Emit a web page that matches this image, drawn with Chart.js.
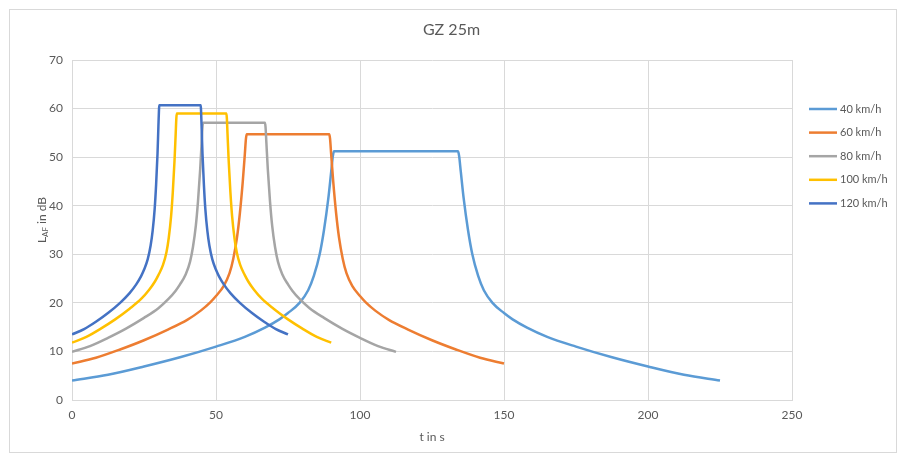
<!DOCTYPE html>
<html>
<head>
<meta charset="utf-8">
<script src="https://cdn.jsdelivr.net/npm/chart.js@4.4.1/dist/chart.umd.min.js"></script>
<style>
  html, body { margin: 0; padding: 0; background: #fff; }
  #wrap { width: 903px; height: 457px; }
</style>
</head>
<body>
<div id="wrap"><canvas id="chart" width="903" height="457"></canvas></div>
<script>
// Series names (legend)
const speeds = ['40 km/h', '60 km/h', '80 km/h', '100 km/h', '120 km/h'];

// Pass-by curves: t in s / L_AF in dB
const t40 = [0, 12.5, 25, 37.5, 50, 60, 67, 72, 75, 79, 82, 84, 86, 87.5, 89, 90, 90.6, 91,
             134, 134.4, 135, 136, 137.5, 139, 141, 143, 146, 150, 153, 158, 165, 175, 187.5, 200, 212.5, 225];
const l40 = [4.0, 5.2, 6.9, 8.8, 11.0, 13.0, 14.9, 16.6, 17.9, 20.0, 22.6, 25.6, 30.0, 35.0, 41.5, 47.0, 50.3, 51.2,
             51.2, 50.3, 47.0, 41.5, 35.0, 30.0, 25.6, 22.6, 20.0, 17.9, 16.6, 14.9, 13.0, 11.0, 8.8, 6.9, 5.2, 4.0];

const t60 = [0, 8.3, 16.7, 25.0, 33.3, 40.0, 44.7, 48.0, 50.0, 52.7, 54.7, 56.0, 57.3, 58.3, 59.3, 60.0, 60.4, 60.7,
             89.3, 89.6, 90.0, 90.7, 91.7, 92.7, 94.0, 95.3, 97.3, 100.0, 102.0, 105.3, 110.0, 116.7, 125.0, 133.3, 141.7, 150];
const l60 = [7.5, 8.7, 10.4, 12.3, 14.5, 16.5, 18.4, 20.1, 21.4, 23.5, 26.1, 29.1, 33.5, 38.5, 45.0, 50.5, 53.8, 54.7,
             54.7, 53.8, 50.5, 45.0, 38.5, 33.5, 29.1, 26.1, 23.5, 21.4, 20.1, 18.4, 16.5, 14.5, 12.3, 10.4, 8.7, 7.5];

const t80 = [0, 6.25, 12.5, 18.75, 25, 30, 33.5, 36, 37.5, 39.5, 41, 42, 43, 43.75, 44.5, 45, 45.3, 45.5,
             67, 67.2, 67.5, 68, 68.75, 69.5, 70.5, 71.5, 73, 75, 76.5, 79, 82.5, 87.5, 93.75, 100, 106.25, 112.5];
const l80 = [9.9, 11.1, 12.8, 14.7, 16.9, 18.9, 20.8, 22.5, 23.8, 25.9, 28.5, 31.5, 35.9, 40.9, 47.4, 52.9, 56.2, 57.1,
             57.1, 56.2, 52.9, 47.4, 40.9, 35.9, 31.5, 28.5, 25.9, 23.8, 22.5, 20.8, 18.9, 16.9, 14.7, 12.8, 11.1, 9.9];

const t100 = [0, 5, 10, 15, 20, 24, 26.8, 28.8, 30, 31.6, 32.8, 33.6, 34.4, 35, 35.6, 36, 36.24, 36.4,
              53.6, 53.76, 54, 54.4, 55, 55.6, 56.4, 57.2, 58.4, 60, 61.2, 63.2, 66, 70, 75, 80, 85, 90];
const l100 = [11.8, 13.0, 14.7, 16.6, 18.8, 20.8, 22.7, 24.4, 25.7, 27.8, 30.4, 33.4, 37.8, 42.8, 49.3, 54.8, 58.1, 59.0,
              59.0, 58.1, 54.8, 49.3, 42.8, 37.8, 33.4, 30.4, 27.8, 25.7, 24.4, 22.7, 20.8, 18.8, 16.6, 14.7, 13.0, 11.8];

const t120 = [0, 4.2, 8.3, 12.5, 16.7, 20.0, 22.3, 24.0, 25.0, 26.3, 27.3, 28.0, 28.7, 29.2, 29.7, 30.0, 30.2, 30.3,
              44.7, 44.8, 45.0, 45.3, 45.8, 46.3, 47.0, 47.7, 48.7, 50.0, 51.0, 52.7, 55.0, 58.3, 62.5, 66.7, 70.8, 75];
const l120 = [13.5, 14.6, 16.1, 17.9, 20.0, 22.0, 23.8, 25.5, 26.8, 29.0, 31.8, 34.8, 39.3, 44.3, 50.8, 56.3, 59.7, 60.7,
              60.7, 59.7, 56.3, 50.8, 44.3, 39.3, 34.8, 31.8, 29.0, 26.8, 25.5, 23.8, 22.0, 20.0, 17.9, 16.1, 14.6, 13.5];

const times = [t40, t60, t80, t100, t120];
const levels = [l40, l60, l80, l100, l120];
const colors = ['#5B9BD5', '#ED7D31', '#A5A5A5', '#FFC000', '#4472C4'];

const TEXT = '#595959';
const GRID = '#d9d9d9';
const FONT = 'Lato, "Open Sans", sans-serif';

Chart.defaults.font.family = FONT;
Chart.defaults.color = TEXT;

const datasets = speeds.map((name, i) => ({
    label: name,
    data: times[i].map((t, j) => ({ x: t, y: levels[i][j] })),
    borderColor: colors[i],
    backgroundColor: colors[i],
    borderWidth: 2.5,
    pointRadius: 0,
    cubicInterpolationMode: 'monotone',
    fill: false,
    order: speeds.length - i   // later series on top, like the original
}));

// frame, y title with subscript, legend on the right
const decor = {
    id: 'decor',
    beforeDraw(chart) {
        const ctx = chart.ctx;
        ctx.save();
        ctx.strokeStyle = GRID;
        ctx.lineWidth = 1;
        ctx.strokeRect(9.5, 9.5, 887, 443);
        ctx.restore();
    },
    afterDraw(chart) {
        const ctx = chart.ctx;
        ctx.save();
        ctx.fillStyle = TEXT;

        // y axis title: L_AF in dB
        ctx.translate(42, 220);
        ctx.rotate(-Math.PI / 2);
        const big = '12px ' + FONT, small = '8px ' + FONT;
        ctx.font = big;
        const wL = ctx.measureText('L').width;
        const wRest = ctx.measureText(' in dB').width;
        ctx.font = small;
        const wSub = ctx.measureText('AF').width;
        let x = -(wL + wSub + wRest) / 2;
        ctx.textBaseline = 'middle';
        ctx.textAlign = 'left';
        ctx.font = big;
        ctx.fillText('L', x, 0);
        x += wL;
        ctx.font = small;
        ctx.fillText('AF', x, 3);
        x += wSub;
        ctx.font = big;
        ctx.fillText(' in dB', x, 0);
        ctx.restore();

        // legend
        ctx.save();
        ctx.font = '11px ' + FONT;
        ctx.textBaseline = 'middle';
        ctx.textAlign = 'left';
        chart.data.datasets.forEach((ds, i) => {
            const y = 109 + i * 23.6;
            ctx.strokeStyle = ds.borderColor;
            ctx.lineWidth = 2.5;
            ctx.beginPath();
            ctx.moveTo(809, y);
            ctx.lineTo(837, y);
            ctx.stroke();
            ctx.fillStyle = TEXT;
            ctx.fillText(ds.label, 840, y);
        });
        ctx.restore();
    }
};

new Chart(document.getElementById('chart'), {
    type: 'line',
    data: { datasets: datasets },
    options: {
        responsive: false,
        animation: false,
        layout: { padding: 0 },
        plugins: {
            legend: { display: false },
            tooltip: { enabled: false },
            title: {
                display: true,
                text: 'GZ 25m',
                color: TEXT,
                font: { size: 16, weight: 'normal' },
                padding: { top: 20, bottom: 20.8 }
            }
        },
        scales: {
            x: {
                type: 'linear',
                min: 0,
                max: 250,
                ticks: { stepSize: 50, padding: 8, color: TEXT, font: { size: 12 } },
                grid: { color: GRID, drawTicks: false },
                border: { color: GRID },
                title: { display: true, text: 't in s', color: TEXT, font: { size: 12 }, padding: { top: 4, bottom: 13 } },
                afterFit: s => { s.height = 57; }
            },
            y: {
                min: 0,
                max: 70,
                ticks: { stepSize: 10, padding: 9, color: TEXT, font: { size: 12 } },
                grid: { color: GRID, drawTicks: false },
                border: { color: GRID },
                afterFit: s => { s.width = 72; }
            },
            // empty right-hand band that holds the legend
            side: {
                position: 'right',
                min: 0,
                max: 70,
                ticks: { display: false },
                grid: { display: false, drawTicks: false },
                border: { display: false },
                afterFit: s => { s.width = 111; }
            }
        }
    },
    plugins: [decor]
});
</script>
</body>
</html>
